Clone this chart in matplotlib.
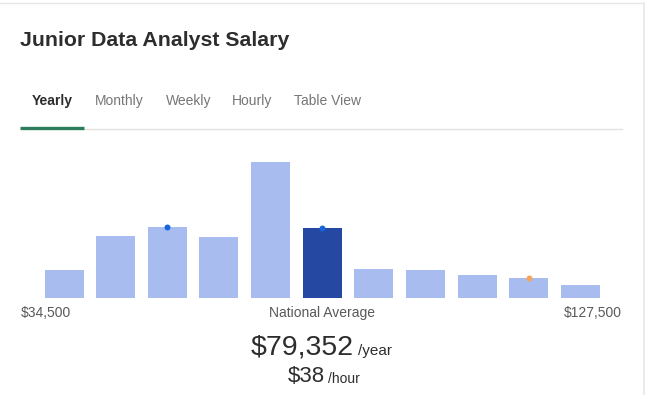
import matplotlib
matplotlib.use("Agg")
import matplotlib.pyplot as plt
from matplotlib.lines import Line2D

plt.rcParams['font.family'] = ['Liberation Sans', 'DejaVu Sans']

# ---- data ----
bins = list(range(11))
heights = [28, 62.6, 71.6, 61.6, 136.3, 70.6, 29.3, 28, 23, 20, 13]
highlight_index = 5
blue_dot_bins = [2, 5]
orange_dot_bins = [9]
tabs = ["Yearly", "Monthly", "Weekly", "Hourly", "Table View"]
tab_x = [32, 95, 166, 232, 294]
min_label = "$34,500"
max_label = "$127,500"
avg_yearly = "$79,352"
avg_hourly = "$38"

W, H = 646, 395
fig = plt.figure(figsize=(W / 100, H / 100), dpi=100)
fig.patch.set_facecolor("white")

def fx(x):
    return x / W

def fy(y):
    return 1 - y / H

# card border
fig.add_artist(Line2D([fx(0), fx(644)], [fy(2.5), fy(2.5)], color="#e8e8e8", lw=1))
fig.add_artist(Line2D([fx(643.5), fx(643.5)], [fy(2.5), fy(395)], color="#e8e8e8", lw=1.2))

# title
fig.text(fx(20), fy(40), "Junior Data Analyst Salary", fontsize=15.3, fontweight="bold",
         color="#2d2d2d", ha="left", va="center")

# tabs
for i, (t, x) in enumerate(zip(tabs, tab_x)):
    fig.text(fx(x), fy(101), t, fontsize=10, fontweight="bold" if i == 0 else "normal",
             color="#2d2d2d" if i == 0 else "#767676", ha="left", va="center")
fig.add_artist(Line2D([fx(84), fx(622)], [fy(129), fy(129)], color="#e4e2e0", lw=1))
fig.add_artist(Line2D([fx(20), fx(84)], [fy(128), fy(128)], color="#2d7d5c", lw=2.4,
                      solid_capstyle="butt"))

# bars axis
left_px, right_px = 38.2, 606.2
bottom_px = 298.3
ax_h = 140
ax = fig.add_axes([fx(left_px), fy(bottom_px), fx(right_px - left_px), ax_h / H])
ax.set_xlim(-0.5, 10.5)
ax.set_ylim(0, ax_h)
colors = ["#2549a3" if i == highlight_index else "#a9bcf0" for i in bins]
ax.bar(bins, heights, width=0.755, color=colors, edgecolor="none")
ax.plot(blue_dot_bins, [heights[i] for i in blue_dot_bins], "o", color="#1866dc",
        markersize=4.3, markeredgewidth=0, clip_on=False)
ax.plot(orange_dot_bins, [heights[i] for i in orange_dot_bins], "o", color="#f5a55a",
        markersize=4.3, markeredgewidth=0, clip_on=False)
ax.axis("off")

# labels below bars
fig.text(fx(21), fy(313), min_label, fontsize=10, color="#595959", ha="left", va="center")
fig.text(fx(322), fy(313), "National Average", fontsize=10, color="#595959",
         ha="center", va="center")
fig.text(fx(622), fy(313), max_label, fontsize=10, color="#595959", ha="right", va="center")

fig.text(fx(354), fy(347), avg_yearly, fontsize=20.5, color="#2d2d2d", ha="right",
         va="center")
fig.text(fx(358), fy(351), "/year", fontsize=11, color="#2d2d2d", ha="left", va="center")
fig.text(fx(325), fy(377), avg_hourly, fontsize=16, color="#2d2d2d", ha="right",
         va="center")
fig.text(fx(328), fy(379), "/hour", fontsize=10, color="#2d2d2d", ha="left", va="center")

fig.savefig("out.png", dpi=100, facecolor="white")
